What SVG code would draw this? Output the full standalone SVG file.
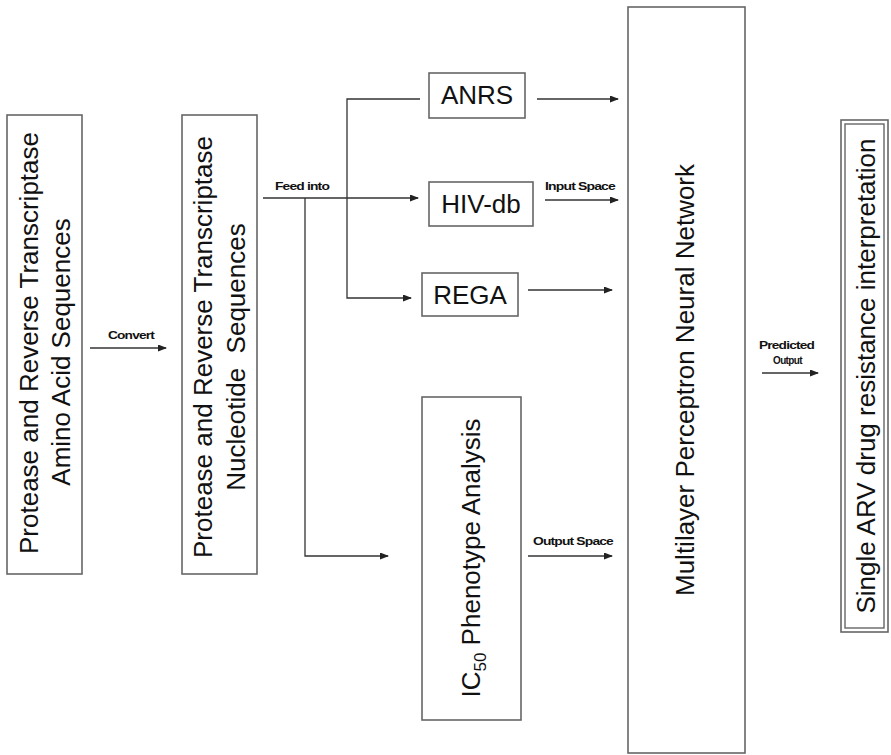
<svg xmlns="http://www.w3.org/2000/svg" width="891" height="755" viewBox="0 0 891 755">
<style>
text{font-family:"Liberation Sans",Arial,sans-serif;fill:#111}
.big{font-size:26px}
.v{text-anchor:middle}
.lbl{font-size:10px;font-weight:bold;letter-spacing:-0.6px}
.box{fill:#fff;stroke:#666;stroke-width:1.6}
.con{fill:none;stroke:#333;stroke-width:1.3}
.arr{marker-end:url(#ah)}
</style>
<defs>
<marker id="ah" markerWidth="9" markerHeight="7" refX="8" refY="3.5" orient="auto" markerUnits="userSpaceOnUse">
<path d="M0,0 L9,3.5 L0,7 Z" fill="#222"/>
</marker>
</defs>
<rect width="891" height="755" fill="#fff"/>

<g id="aa-seq">
<rect class="box" x="7" y="115" width="75" height="459"/>
<text class="big v" transform="translate(38,343) rotate(-90)">Protease and Reverse Transcriptase</text>
<text class="big v" transform="translate(70,352) rotate(-90)">Amino Acid Sequences</text>
</g>

<g id="nt-seq">
<rect class="box" x="182" y="115" width="75" height="459"/>
<text class="big v" transform="translate(212,347) rotate(-90)">Protease and Reverse Transcriptase</text>
<text class="big v" transform="translate(245,357) rotate(-90)" xml:space="preserve">Nucleotide  Sequences</text>
</g>

<g id="anrs">
<rect class="box" x="429" y="73" width="96" height="45"/>
<text class="big v" x="477" y="104">ANRS</text>
</g>

<g id="hivdb">
<rect class="box" x="429" y="182" width="104" height="44"/>
<text class="big v" x="481" y="213">HIV-db</text>
</g>

<g id="rega">
<rect class="box" x="422" y="273" width="96" height="43"/>
<text class="big v" x="470" y="304">REGA</text>
</g>

<g id="ic50">
<rect class="box" x="422" y="397" width="99" height="323"/>
<text class="big v" transform="translate(480,558) rotate(-90)">IC<tspan font-size="17" dy="6">50</tspan><tspan dy="-6"> Phenotype Analysis</tspan></text>
</g>

<g id="mlp">
<rect class="box" x="628" y="7" width="117" height="746"/>
<text class="big v" transform="translate(694,380) rotate(-90)">Multilayer Perceptron Neural Network</text>
</g>

<g id="result">
<rect class="box" x="841" y="120" width="47" height="512"/>
<rect fill="none" stroke="#666" stroke-width="1.4" x="845" y="124" width="39" height="504"/>
<text class="big v" transform="translate(875,376) rotate(-90)">Single ARV drug resistance interpretation</text>
</g>

<g id="connectors">
<line class="con arr" x1="90" y1="348" x2="166" y2="348"/>
<text class="lbl" x="108" y="339" textLength="46" lengthAdjust="spacingAndGlyphs">Convert</text>

<line class="con arr" x1="263" y1="198" x2="418" y2="198"/>
<text class="lbl" x="275" y="190" textLength="54" lengthAdjust="spacingAndGlyphs">Feed into</text>
<polyline class="con arr" points="420,99 347,99 347,298 411,298"/>
<polyline class="con arr" points="305,198 305,556 388,556"/>

<line class="con arr" x1="537" y1="99" x2="618" y2="99"/>
<line class="con arr" x1="545" y1="200" x2="618" y2="200"/>
<text class="lbl" x="545" y="190" textLength="70" lengthAdjust="spacingAndGlyphs">Input Space</text>
<line class="con arr" x1="528" y1="290" x2="612" y2="290"/>
<line class="con arr" x1="528" y1="556" x2="612" y2="556"/>
<text class="lbl" x="533" y="545" textLength="80" lengthAdjust="spacingAndGlyphs">Output Space</text>

<line class="con arr" x1="762" y1="373" x2="818" y2="373"/>
<text class="lbl" x="759" y="349" textLength="55" lengthAdjust="spacingAndGlyphs">Predicted</text>
<text class="lbl" x="773" y="364" textLength="29" lengthAdjust="spacingAndGlyphs">Output</text>
</g>
</svg>
